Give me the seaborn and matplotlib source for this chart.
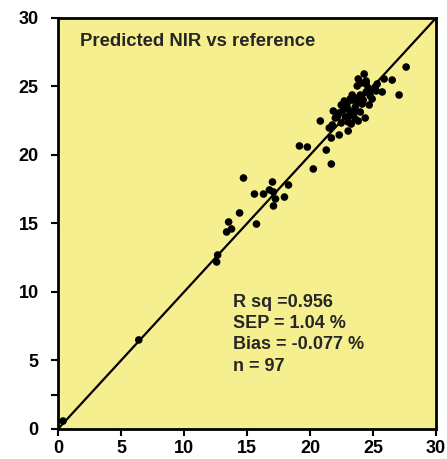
import matplotlib
matplotlib.use("Agg")
import matplotlib.pyplot as plt
import seaborn as sns
import pandas as pd

# reference NIR values (x) vs predicted (y)
reference = [0.40, 6.41,
             12.59, 12.67, 13.54, 13.38, 13.77, 14.41, 14.72, 15.59, 16.31, 15.75,
             17.02, 16.78, 17.10, 17.26, 17.97, 17.10, 18.29,
             19.16, 19.79, 20.26, 21.29, 21.69,
             27.63, 24.30, 23.83, 24.46, 25.88, 26.52, 23.75, 24.46, 25.17, 24.78,
             25.73, 27.07, 23.35, 23.19, 23.83, 24.22, 24.93, 22.72, 23.75, 24.70,
             22.96, 23.59, 21.85, 22.32, 23.19, 23.99, 22.80, 23.43, 22.01, 24.38,
             20.82, 23.83, 23.03, 23.27, 21.77, 23.03, 22.32, 21.69,
             22.48, 22.96, 23.35, 23.99, 24.46, 23.51, 22.64, 22.16, 24.14, 24.78,
             25.25, 24.07, 23.59, 22.48, 21.53, 25.33, 23.11, 24.62]
predicted = [0.58, 6.50,
             12.19, 12.70, 15.11, 14.38, 14.60, 15.77, 18.32, 17.15, 17.15, 14.96,
             18.03, 17.45, 17.30, 16.79, 16.93, 16.28, 17.81,
             20.66, 20.58, 18.98, 20.36, 19.34,
             26.42, 25.91, 25.55, 25.40, 25.55, 25.47, 25.04, 25.18, 24.96, 24.67,
             24.60, 24.38, 24.38, 24.09, 24.16, 24.01, 24.09, 23.94, 23.80, 23.65,
             23.43, 23.50, 23.21, 23.07, 23.14, 23.14, 22.77, 22.92, 22.70, 22.70,
             22.48, 22.48, 22.41, 22.26, 22.19, 21.75, 21.46, 21.24,
             23.65, 23.80, 24.01, 24.38, 24.60, 23.14, 23.28, 22.77, 23.72, 24.31,
             24.67, 25.26, 22.63, 22.34, 21.97, 25.18, 22.85, 24.89]

line_x = [0, 30]
line_y = [0, 30]
ticks = [0, 5, 10, 15, 20, 25, 30]

title = "Predicted NIR vs reference"
stats = "R sq =0.956\nSEP = 1.04 %\nBias = -0.077 %\nn = 97"

df = pd.DataFrame({"reference": reference, "predicted": predicted})
diag = pd.DataFrame({"x": line_x, "y": line_y})

sns.set_style("ticks")
plt.rcParams["font.family"] = ["Liberation Sans", "DejaVu Sans"]

fig = plt.figure(figsize=(4.47, 4.59), dpi=100)
ax = fig.add_axes([0.1298, 0.0654, 0.8456, 0.8954])
ax.set_facecolor("#F6EF8F")

sns.lineplot(data=diag, x="x", y="y", color="black", linewidth=1.6, ax=ax)
sns.scatterplot(data=df, x="reference", y="predicted", color="black",
                s=30, edgecolor="none", ax=ax, zorder=3)

ax.set_xlim(0, 30)
ax.set_ylim(0, 30)
ax.set_xticks(ticks)
ax.set_yticks(ticks)
ax.set_yticks([2.5], minor=True)
ax.set_xlabel("")
ax.set_ylabel("")
for lbl in ax.get_xticklabels() + ax.get_yticklabels():
    lbl.set_fontweight("bold")
ax.tick_params(axis="both", which="both", direction="out", length=5, width=1.5,
               color="black", labelsize=13, labelcolor="black")
ax.tick_params(axis="y", pad=9)
ax.tick_params(axis="x", pad=3)
for sp in ax.spines.values():
    sp.set_visible(True)
    sp.set_color("black")
    sp.set_linewidth(2)

ax.text(0.058, 0.943, title, transform=ax.transAxes, fontsize=13.3,
        fontweight="bold", ha="left", va="center")
ax.text(0.463, 0.328, stats, transform=ax.transAxes, fontsize=13,
        fontweight="bold", ha="left", va="top", linespacing=1.32)

fig.savefig("out.png", dpi=100)
